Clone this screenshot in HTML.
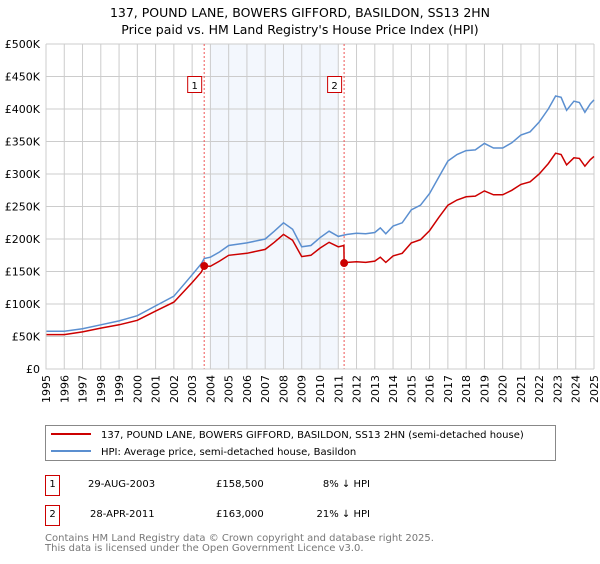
<!DOCTYPE html>
<html><head><meta charset="utf-8"><style>
body{margin:0;background:#fff;font-family:"DejaVu Sans","Liberation Sans",sans-serif;}
svg text{font-family:"DejaVu Sans","Liberation Sans",sans-serif;}
</style></head><body>
<svg id="c" width="600" height="560" xmlns="http://www.w3.org/2000/svg">
<text x="300" y="17" text-anchor="middle" font-size="12.5">137, POUND LANE, BOWERS GIFFORD, BASILDON, SS13 2HN</text>
<text x="300" y="34" text-anchor="middle" font-size="12.5">Price paid vs. HM Land Registry's House Price Index (HPI)</text>
<g id="grid"></g><g id="marks"></g><g id="axes"></g>
<g>
<rect x="45.5" y="425.5" width="510" height="35" fill="#fff" stroke="#888"/>
<line x1="51" y1="434" x2="91" y2="434" stroke="#cc0000" stroke-width="2"/>
<text x="101" y="438" font-size="10">137, POUND LANE, BOWERS GIFFORD, BASILDON, SS13 2HN (semi-detached house)</text>
<line x1="51" y1="451" x2="91" y2="451" stroke="#5b8fd0" stroke-width="2"/>
<text x="101" y="455" font-size="10">HPI: Average price, semi-detached house, Basildon</text>
</g>
<g font-size="10">
<rect x="45.5" y="475.5" width="14" height="20" fill="#fff" stroke="#cc0000"/>
<text x="52.5" y="487" text-anchor="middle">1</text>
<text x="88" y="487">29-AUG-2003</text>
<text x="216" y="487">£158,500</text>
<text x="370" y="487" text-anchor="end">8% ↓ HPI</text>
<rect x="45.5" y="505.5" width="14" height="20" fill="#fff" stroke="#cc0000"/>
<text x="52.5" y="517" text-anchor="middle">2</text>
<text x="90" y="517">28-APR-2011</text>
<text x="216" y="517">£163,000</text>
<text x="370" y="517" text-anchor="end">21% ↓ HPI</text>
</g>
<text x="45" y="541" font-size="10" fill="#777">Contains HM Land Registry data © Crown copyright and database right 2025.</text>
<text x="45" y="551" font-size="10" fill="#777">This data is licensed under the Open Government Licence v3.0.</text>
</svg>
<script>
const yTicks=[0,50,100,150,200,250,300,350,400,450,500];
const yTickLabels=["£0","£50K","£100K","£150K","£200K","£250K","£300K","£350K","£400K","£450K","£500K"];
const xYears=[1995,1996,1997,1998,1999,2000,2001,2002,2003,2004,2005,2006,2007,2008,2009,2010,2011,2012,2013,2014,2015,2016,2017,2018,2019,2020,2021,2022,2023,2024,2025];
const hpiX=[1995,1996,1997,1998,1999,2000,2001,2002,2003,2003.5,2003.66,2004,2004.5,2005,2006,2007,2007.5,2008,2008.5,2009,2009.5,2010,2010.5,2011,2011.3,2011.5,2012,2012.5,2013,2013.3,2013.6,2014,2014.5,2015,2015.5,2016,2016.5,2017,2017.5,2018,2018.5,2019,2019.5,2020,2020.5,2021,2021.5,2022,2022.5,2022.9,2023.2,2023.5,2023.9,2024.2,2024.5,2024.8,2025];
const hpiV=[58,58,62,68,74,82,97,112,145,162,170,172,180,190,194,200,212,225,215,188,190,202,212,204,206,207,209,208,210,217,208,220,225,245,252,270,295,320,330,336,337,347,340,340,348,360,365,380,400,420,418,398,412,410,395,408,414];
const redX=[1995,1996,1997,1998,1999,2000,2001,2002,2003,2003.5,2003.66,2004,2004.5,2005,2006,2007,2007.5,2008,2008.5,2009,2009.5,2010,2010.5,2011,2011.31,2011.32,2011.5,2012,2012.5,2013,2013.3,2013.6,2014,2014.5,2015,2015.5,2016,2016.5,2017,2017.5,2018,2018.5,2019,2019.5,2020,2020.5,2021,2021.5,2022,2022.5,2022.9,2023.2,2023.5,2023.9,2024.2,2024.5,2024.8,2025];
const redV=[53,53,57,63,68,75,89,103,133,149,158.5,158,166,175,178,184,195,207,198,173,175,186,195,188,190,163,164,165,164,166,172,164,174,178,194,199,213,233,252,260,265,266,274,268,268,275,284,288,300,316,332,330,314,325,324,312,322,327];
const saleX=[2003.66,2011.32];
const saleV=[158.5,163];
const saleLabels=["1","2"];
const L=46,R=594,T=44,B=369;
const xs=y=>L+(y-1995)*(R-L)/30;
const ys=v=>B-v*(B-T)/500;
const NS="http://www.w3.org/2000/svg";
function mk(p,tag,attrs){const e=document.createElementNS(NS,tag);for(const k in attrs)e.setAttribute(k,attrs[k]);p.appendChild(e);return e;}
const grid=document.getElementById('grid'),marks=document.getElementById('marks'),axes=document.getElementById('axes');
const shade=mk(grid,'rect',{x:xs(2004),y:T,width:xs(2011)-xs(2004),height:B-T,fill:'#eef3fc',opacity:0.7});


xYears.forEach(y=>{const l=mk(grid,'line',{x1:xs(y),x2:xs(y),y1:T,y2:B,stroke:'#ccc'});


const tx=xs(y)+4,ty=B+6;
const t=mk(axes,'text',{x:tx,y:ty,'font-size':11,'text-anchor':'end'});
t.setAttribute('transform','rotate(-90 '+tx+' '+ty+')');
t.style.transform='rotate(-90deg)';
t.style.transformOrigin=tx+'px '+ty+'px';
t.style.transformBox='view-box';
t.textContent=y;

});
yTicks.forEach((v,i)=>{const l=mk(grid,'line',{x1:L,x2:R,y1:ys(v),y2:ys(v),stroke:'#ccc'});


const t=mk(axes,'text',{x:40,y:ys(v)+4,'font-size':11,'text-anchor':'end'});t.textContent=yTickLabels[i];

});
saleX.forEach((x,i)=>{const l=mk(marks,'line',{x1:xs(x),x2:xs(x),y1:T,y2:B,stroke:'#e55','stroke-dasharray':'2,2','stroke-width':1});

});
function path(X,V,col,name){const d=X.map((x,i)=>(i?'L':'M')+xs(x).toFixed(1)+','+ys(V[i]).toFixed(1)).join('');
const p=mk(marks,'path',{d:d,fill:'none',stroke:col,'stroke-width':1.5});

}
path(hpiX,hpiV,'#5b8fd0','hpi-line');
path(redX,redV,'#cc0000','price-paid-line');
saleX.forEach((x,i)=>{const c=mk(marks,'circle',{cx:xs(x),cy:ys(saleV[i]),r:4,fill:'#cc0000'});


const bx=xs(x)-16;const r=mk(marks,'rect',{x:bx-0.5,y:76.5,width:14,height:16,fill:'#fff',stroke:'#cc0000'});


const t=mk(marks,'text',{x:bx+6.5,y:89,'font-size':10,'text-anchor':'middle'});t.textContent=saleLabels[i];

});
const ax=mk(axes,'path',{d:`M${L},${T}V${B}H${R}`,fill:'none',stroke:'#ccc'});


</script>
</body></html>
